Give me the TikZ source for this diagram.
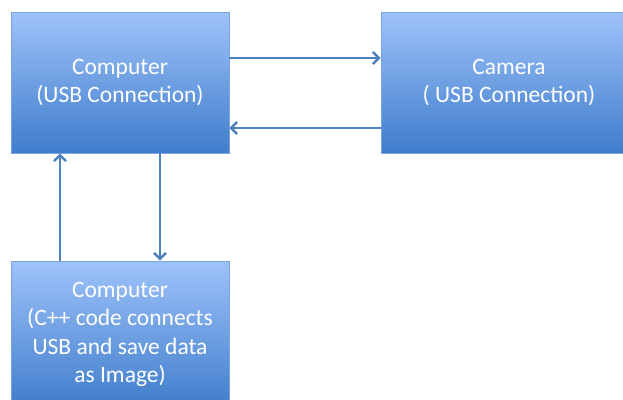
\documentclass[tikz,border=0pt]{standalone}
\usepackage{fontspec}
\setmainfont{Carlito}
\usetikzlibrary{arrows.meta}
\definecolor{topblue}{HTML}{9EC2FA}
\definecolor{botblue}{HTML}{3F7DCB}
\definecolor{edgeblue}{HTML}{7BA3DD}
\definecolor{arrowblue}{HTML}{4F81BD}
\begin{document}
\begin{tikzpicture}[x=1pt,y=-1pt,
  blockbox/.style={draw=edgeblue, line width=0.8pt, top color=topblue, bottom color=botblue,
    minimum width=#1, text=white, align=center, inner sep=0pt,
    font=\fontsize{23.5}{28.5}\selectfont},
  conn/.style={draw=arrowblue, line width=2.5pt, -{Straight Barb[length=6pt,width=12pt,line width=2.5pt]}}
]
\useasboundingbox (0,0) rectangle (623,399);
\clip (0,0) rectangle (623,399);
\node[blockbox=218pt, minimum height=141pt] (b1) at (120,82.5) {Computer\\(USB Connection)};
\node[blockbox=256pt, minimum height=141pt] (b2) at (509,82.5) {Camera\\( USB Connection)};
\node[blockbox=218pt, minimum height=147pt] (b3) at (120,334.5) {Computer\\(C++ code connects\\USB and save data\\as Image)};
\draw[conn] ([yshift=24.5pt]b1.east) -- ([yshift=24.5pt]b2.west);
\draw[conn] ([yshift=-45.5pt]b2.west) -- ([yshift=-45.5pt]b1.east);
\draw[conn] ([xshift=-60pt]b3.north) -- ([xshift=-60pt]b1.south);
\draw[conn] ([xshift=40pt]b1.south) -- ([xshift=40pt]b3.north);
\end{tikzpicture}
\end{document}
